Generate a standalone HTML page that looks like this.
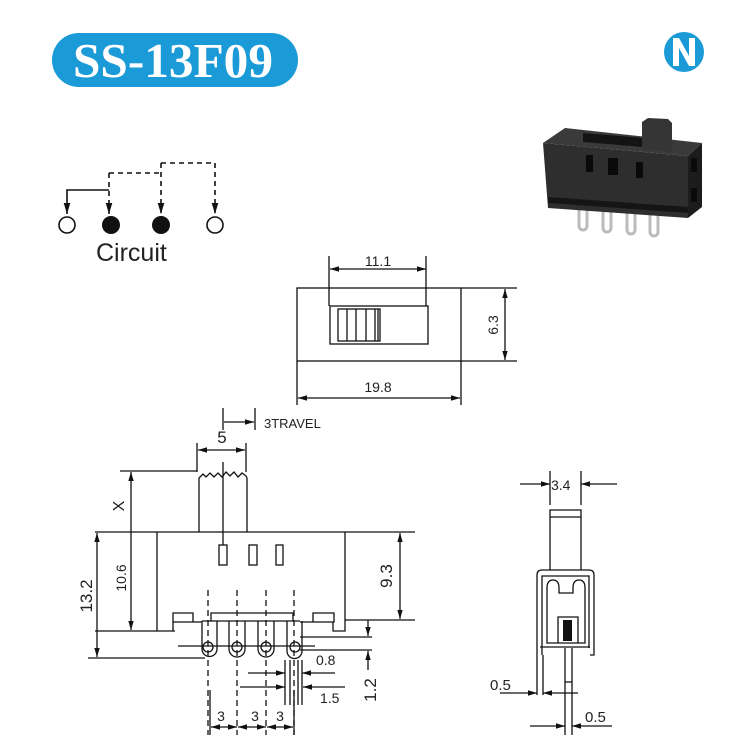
<!DOCTYPE html>
<html><head><meta charset="utf-8"><style>
html,body{margin:0;padding:0;background:#fff;}
svg{display:block}
text{font-family:"Liberation Sans",sans-serif;fill:#222}
</style></head><body>
<svg width="735" height="744" viewBox="0 0 735 744" xmlns="http://www.w3.org/2000/svg">
<defs>
<marker id="a" viewBox="0 0 10 10" refX="10" refY="5" markerWidth="7" markerHeight="7" orient="auto-start-reverse"><path d="M0,2 L10,5 L0,8 z" fill="#111"/></marker>
</defs>
<rect width="735" height="744" fill="#fff"/>
<rect x="52" y="33" width="246" height="54" rx="27" fill="#1a9ad6"/>
<text x="173" y="77" text-anchor="middle" style="font-family:'Liberation Serif',serif;font-weight:bold;font-size:49px;fill:#fff" textLength="200" lengthAdjust="spacingAndGlyphs">SS-13F09</text>
<circle cx="684" cy="52" r="20" fill="#1a9ad6"/>
<path d="M673,66 V38 H679 L689,56 V38 H695 V66 H689 L679,48 V66 Z" fill="#fff"/>
<g>
<g fill="none" stroke="#bbb" stroke-width="3">
<path d="M579,206 v20 a4,4 0 0 0 8,0 v-20"/>
<path d="M603,208 v20 a4,4 0 0 0 8,0 v-20"/>
<path d="M627,210 v20 a4,4 0 0 0 8,0 v-20"/>
<path d="M650,212 v20 a4,4 0 0 0 8,0 v-20"/>
</g>
<path d="M543,143 L688,156 L688,218 L548,208 Z" fill="#2e2e2e"/>
<path d="M543,143 L565,128 L702,143 L688,156 Z" fill="#3a3a3a"/>
<path d="M688,156 L702,143 L702,207 L688,218 Z" fill="#1c1c1c"/>
<path d="M583,133 L643,138 L643,147 L583,142 Z" fill="#141414"/>
<path d="M642,122 L648,118 L668,119 L672,123 L672,152 L642,149 Z" fill="#353535"/>
<path d="M548,197 L688,207 L688,213 L548,203 Z" fill="#151515"/>
<rect x="586" y="155" width="7" height="17" fill="#0a0a0a"/>
<rect x="608" y="158" width="10" height="17" fill="#0a0a0a"/>
<rect x="636" y="162" width="7" height="16" fill="#0a0a0a"/>
<rect x="691" y="158" width="6" height="14" fill="#0a0a0a"/>
<rect x="691" y="188" width="6" height="14" fill="#0a0a0a"/>
</g>
<g stroke="#111" stroke-width="1.6" fill="none">
<path d="M109,190 H67 V214" marker-end="url(#a)"/>
<path d="M109,173 V214" stroke-dasharray="5,4" marker-end="url(#a)"/>
<path d="M109,173 H161" stroke-dasharray="5,4"/>
<path d="M161,163 V214" stroke-dasharray="5,4" marker-end="url(#a)"/>
<path d="M161,163 H215 V214" stroke-dasharray="5,4" marker-end="url(#a)"/>
<circle cx="67" cy="225" r="8"/>
<circle cx="215" cy="225" r="8"/>
</g>
<circle cx="111" cy="225" r="9" fill="#111"/>
<circle cx="161" cy="225" r="9" fill="#111"/>
<text x="96" y="261" style="font-size:25px">Circuit</text>
<g stroke="#111" stroke-width="1.3" fill="none">
<rect x="297" y="288" width="164" height="73"/>
<rect x="330" y="306" width="98" height="38"/>
<rect x="338" y="309" width="42" height="32"/>
<path d="M347,309V341M356,309V341M366,309V341M375,309V341M378,309V341"/>
<path d="M329,256V306M426,256V306"/>
<path d="M330,269H426" marker-start="url(#a)" marker-end="url(#a)"/>
<path d="M461,288H517M461,361H517"/>
<path d="M505,289V360" marker-start="url(#a)" marker-end="url(#a)"/>
<path d="M297,361V405M461,361V405"/>
<path d="M298,398H460" marker-start="url(#a)" marker-end="url(#a)"/>
</g>
<text x="378" y="266" text-anchor="middle" style="font-size:14px">11.1</text>
<text x="378" y="392" text-anchor="middle" style="font-size:14px">19.8</text>
<text transform="translate(498,325) rotate(-90)" text-anchor="middle" style="font-size:14px">6.3</text>
<g stroke="#111" stroke-width="1.3" fill="none">
<path d="M223,408V430M255,408V430"/>
<path d="M224,422H254" marker-end="url(#a)"/>
<path d="M197,443V472M246,443V472"/>
<path d="M198,450H245" marker-start="url(#a)" marker-end="url(#a)"/>
<path d="M120,471H197"/>
<path d="M199,532V478 L203,474 206,477 210,473 214,477 218,473 222,477 226,472 230,476 234,472 238,477 242,473 246,476 247,478V532"/>
<path d="M223,462V545"/>
<path d="M95,532H415"/>
<path d="M157,532V631 H175 M173,631 V622 M173,613 H193 V622 H173 Z M193,622 H202"/>
<path d="M345,532V631 H333 V622 M313,613 H334 V622 H313 Z M313,622 H300"/>
<path d="M211,621V613H293V621 M202,621H300"/>
<path d="M202,621V649 a7.5,7.5 0 0 0 15,0 V621"/>
<path d="M229,621V649 a8,8 0 0 0 16,0 V621"/>
<path d="M258,621V649 a8,8 0 0 0 16,0 V621"/>
<path d="M287,621V651 a7.5,7.5 0 0 0 15,0 V621"/>
<circle cx="208" cy="647" r="5"/><circle cx="237" cy="647" r="5"/><circle cx="266" cy="647" r="5"/><circle cx="295" cy="647" r="5"/>
<path d="M178,646H315"/>
<path d="M95,631H157 M88,658H205"/>
<path d="M131,472V630" marker-start="url(#a)" marker-end="url(#a)"/>
<path d="M97,533V657" marker-start="url(#a)" marker-end="url(#a)"/>
<path d="M345,620H415"/>
<path d="M400,533V619" marker-start="url(#a)" marker-end="url(#a)"/>
<path d="M300,637H372 M300,650H372"/>
<path d="M368,620V636" marker-end="url(#a)"/>
<path d="M368,651V670" marker-start="url(#a)"/>
<path d="M285,660V705M290,660V705M298,660V705M302,660V705"/>
<path d="M248,673H285" marker-end="url(#a)"/>
<path d="M335,673H302" marker-end="url(#a)"/>
<path d="M240,687H285" marker-end="url(#a)"/>
<path d="M345,687H303" marker-end="url(#a)"/>
<path d="M210,690V735M294,690V735"/>
<path d="M211,727H237" marker-start="url(#a)" marker-end="url(#a)"/>
<path d="M238,727H266" marker-start="url(#a)" marker-end="url(#a)"/>
<path d="M267,727H293" marker-start="url(#a)" marker-end="url(#a)"/>
<g stroke-dasharray="6,4"><path d="M208,590V735M237,590V735M266,590V735M294,590V735"/></g>
</g>
<rect x="219" y="545" width="8" height="20" fill="none" stroke="#111" stroke-width="1.3"/>
<rect x="249" y="545" width="8" height="20" fill="none" stroke="#111" stroke-width="1.3"/>
<rect x="276" y="545" width="7" height="20" fill="none" stroke="#111" stroke-width="1.3"/>
<text x="264" y="428" style="font-size:13px">3TRAVEL</text>
<text x="222" y="443" text-anchor="middle" style="font-size:17px">5</text>
<text transform="translate(124,506) rotate(-90)" text-anchor="middle" style="font-size:16px">X</text>
<text transform="translate(92,596) rotate(-90)" text-anchor="middle" style="font-size:17px">13.2</text>
<text transform="translate(126,578) rotate(-90)" text-anchor="middle" style="font-size:14px">10.6</text>
<text transform="translate(392,576) rotate(-90)" text-anchor="middle" style="font-size:17px">9.3</text>
<text transform="translate(376,690) rotate(-90)" text-anchor="middle" style="font-size:17px">1.2</text>
<text x="316" y="665" style="font-size:14px">0.8</text>
<text x="320" y="703" style="font-size:14px">1.5</text>
<text x="221" y="721" text-anchor="middle" style="font-size:14px">3</text>
<text x="255" y="721" text-anchor="middle" style="font-size:14px">3</text>
<text x="280" y="721" text-anchor="middle" style="font-size:14px">3</text>
<g stroke="#111" stroke-width="1.3" fill="none">
<path d="M550,471V505M581,471V505"/>
<path d="M520,484H550" marker-end="url(#a)"/>
<path d="M617,484H581" marker-end="url(#a)"/>
<path d="M550,570V510H581V570 M550,517H581"/>
<path d="M537,655V575 Q537,570 542,570 H589 Q594,570 594,575 V655 H590"/>
<path d="M542,655V576H589V648"/>
<path d="M540,647H590"/>
<path d="M547,643V588 Q547,580 553,580 Q559,580 559,588 V593 H573 V588 Q573,580 579,580 Q585,580 585,588 V643 Z"/>
<path d="M558,643V617H578V643"/>
<path d="M543,655V695 M537,655V695"/>
<path d="M565,648V735 M572,648V735 M565,682H572"/>
<path d="M500,693H537" marker-end="url(#a)"/>
<path d="M578,693H543" marker-end="url(#a)"/>
<path d="M530,726H565" marker-end="url(#a)"/>
<path d="M612,726H572" marker-end="url(#a)"/>
</g>
<rect x="563" y="620" width="9" height="21" fill="#111"/>
<text x="551" y="490" style="font-size:14px">3.4</text>
<text x="490" y="690" style="font-size:15px">0.5</text>
<text x="585" y="722" style="font-size:15px">0.5</text>
</svg>
</body></html>
